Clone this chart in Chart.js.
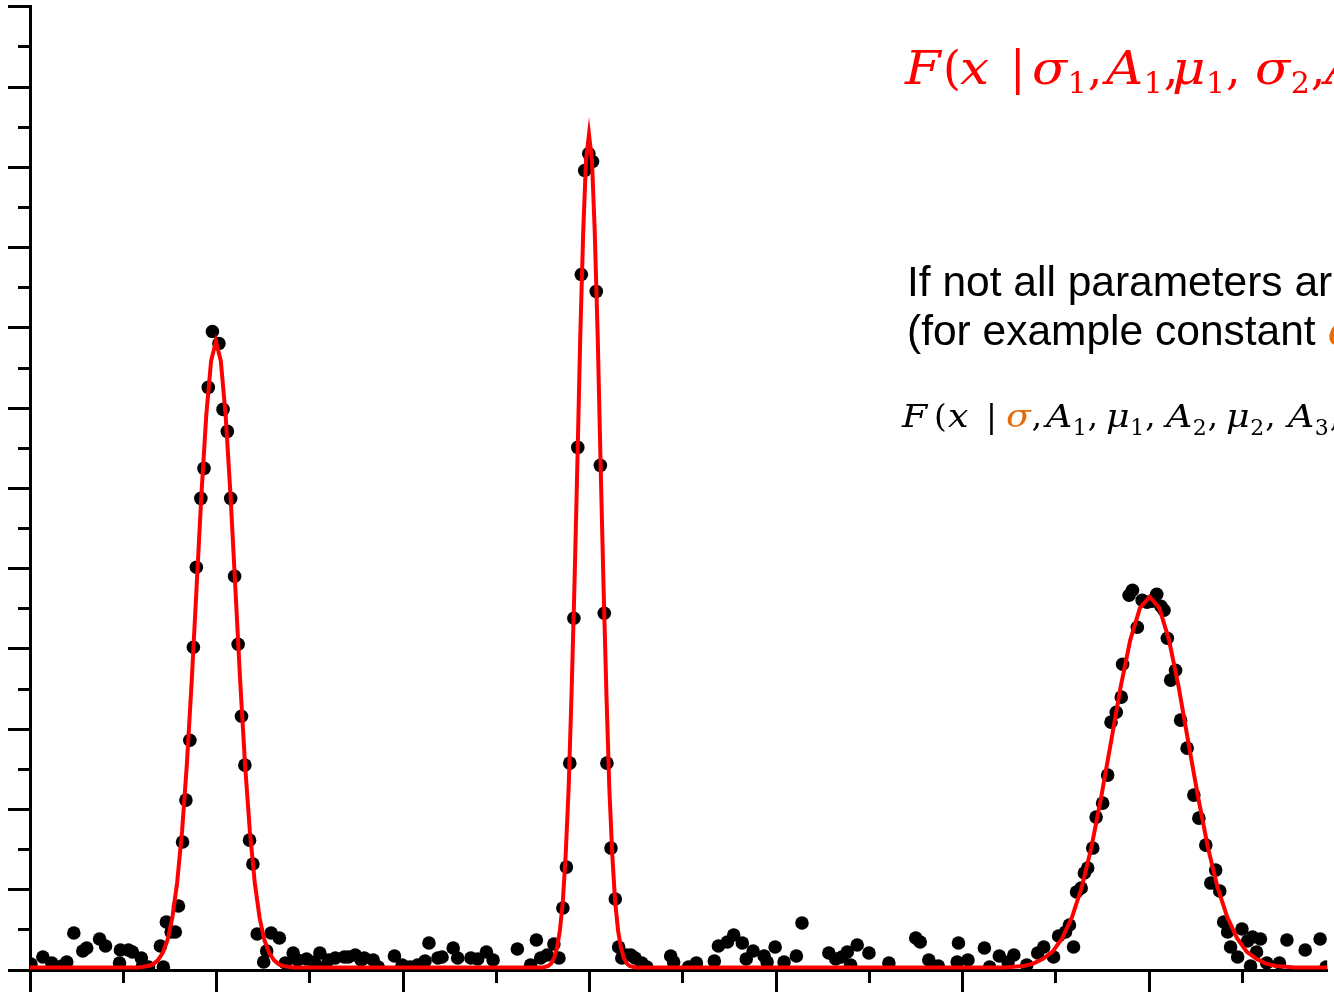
<!DOCTYPE html>
<html>
<head>
<meta charset="utf-8">
<script src="https://cdn.jsdelivr.net/npm/chart.js@4.4.1/dist/chart.umd.min.js"></script>
<style>
html,body{margin:0;padding:0;overflow:hidden;background:#fff;}
#wrap{position:relative;width:1334px;height:992px;}
#c{position:absolute;left:0;top:0;}
#ov{position:absolute;left:0;top:0;pointer-events:none;}
</style>
</head>
<body>
<div id="wrap">
<canvas id="c" width="1334" height="992"></canvas>
<svg id="ov" width="1334" height="992" xmlns="http://www.w3.org/2000/svg"></svg>
</div>
<script>
// ---- measured data points (x in axis units, y in axis units) ----
const dotX = [0.005,0.069,0.117,0.171,0.197,0.235,0.283,0.304,0.373,0.405,
0.480,0.485,0.528,0.549,0.597,0.603,0.635,0.699,0.715,0.731,
0.757,0.779,0.796,0.818,0.836,0.857,0.876,0.892,0.916,0.933,
0.956,0.978,1.013,1.035,1.058,1.076,1.097,1.116,1.134,1.152,
1.177,1.195,1.218,1.253,1.269,1.293,1.337,1.369,1.411,1.435,
1.483,1.525,1.554,1.579,1.600,1.637,1.685,1.707,1.744,1.776,
1.792,1.840,1.867,1.954,1.995,2.037,2.078,2.118,2.139,2.187,
2.209,2.269,2.293,2.364,2.400,2.447,2.483,2.613,2.684,2.715,
2.738,2.773,2.809,2.836,2.857,2.876,2.894,2.916,2.937,2.956,
2.974,2.996,3.016,3.036,3.058,3.079,3.093,3.115,3.138,3.156,
3.173,3.197,3.221,3.244,3.280,3.307,3.435,3.451,3.531,3.573,
3.669,3.691,3.739,3.773,3.819,3.840,3.877,3.936,3.952,3.995,
4.043,4.109,4.139,4.283,4.320,4.353,4.382,4.400,4.435,4.498,
4.605,4.749,4.773,4.819,4.870,4.971,4.978,5.029,5.117,5.145,
5.197,5.244,5.275,5.344,5.403,5.435,5.488,5.515,5.552,5.573,
5.595,5.611,5.636,5.653,5.671,5.698,5.716,5.751,5.778,5.796,
5.824,5.851,5.858,5.893,5.911,5.937,5.963,5.989,6.016,6.041,
6.064,6.080,6.098,6.116,6.142,6.169,6.204,6.240,6.267,6.304,
6.331,6.357,6.379,6.400,6.421,6.437,6.475,6.498,6.528,6.544,
6.555,6.576,6.597,6.631,6.699,6.739,6.837,6.917,6.949];
const dotY = [0.075,0.162,0.087,0.050,0.100,0.461,0.237,0.274,0.386,0.299,
0.087,0.249,0.249,0.224,0.149,0.050,0.037,0.299,0.037,0.598,
0.473,0.473,0.797,1.594,2.117,2.863,4.021,5.017,5.876,6.249,
7.258,7.955,7.806,6.984,6.710,5.876,4.905,4.059,3.162,2.552,
1.618,1.320,0.448,0.100,0.237,0.461,0.398,0.087,0.212,0.124,
0.137,0.100,0.212,0.037,0.124,0.149,0.162,0.162,0.187,0.124,
0.149,0.124,0.037,0.174,0.062,0.037,0.062,0.112,0.336,0.149,
0.162,0.274,0.149,0.149,0.137,0.224,0.124,0.261,0.062,0.373,
0.149,0.187,0.324,0.149,0.772,1.282,2.577,4.382,6.511,8.665,
9.960,10.171,10.072,8.454,6.287,4.445,2.577,1.519,0.884,0.286,
0.149,0.187,0.187,0.149,0.087,0.037,0.174,0.100,0.037,0.087,
0.112,0.299,0.349,0.436,0.336,0.137,0.237,0.174,0.100,0.286,
0.100,0.174,0.585,0.212,0.137,0.162,0.224,0.062,0.311,0.212,
0.087,0.398,0.349,0.124,0.050,0.100,0.336,0.124,0.274,0.037,
0.174,0.100,0.187,0.062,0.212,0.286,0.162,0.423,0.473,0.560,
0.286,0.971,1.021,1.208,1.270,1.519,1.905,2.079,2.428,3.088,
3.212,3.399,3.810,4.669,4.731,4.270,4.607,4.582,4.594,4.681,
4.532,4.482,4.133,3.611,3.735,3.113,2.764,2.179,1.892,1.556,
1.083,1.245,0.984,0.598,0.473,0.286,0.162,0.510,0.361,0.050,
0.411,0.224,0.386,0.087,0.087,0.373,0.249,0.386,0.037];

// ---- fitted curve ----
const curveX = [0,
0.581,0.607,0.633,0.659,0.685,0.711,0.737,0.763,0.789,0.815,0.841,0.867,0.893,0.919,0.945,0.971,0.997,
1.023,1.049,1.075,1.101,1.127,1.153,1.179,1.205,1.231,1.257,1.283,1.309,1.335,1.361,1.387,1.413,
2.747,2.763,2.779,2.794,2.810,2.825,2.841,2.857,2.872,2.888,2.903,2.919,2.935,2.950,2.966,2.981,2.997,
3.013,3.028,3.044,3.059,3.075,3.091,3.106,3.122,3.137,3.153,3.169,3.184,3.200,3.215,3.231,3.247,
5.171,5.223,5.275,5.327,5.379,5.431,5.483,5.535,5.587,5.639,5.691,5.743,5.795,5.847,5.899,5.951,6.003,
6.055,6.107,6.159,6.211,6.263,6.315,6.367,6.419,6.471,6.523,6.575,6.627,6.679,6.731,6.783,6.835,
7.0];
const curveY = [0.03,
0.03,0.04,0.05,0.07,0.12,0.21,0.37,0.65,1.09,1.72,2.56,3.60,4.76,5.92,6.91,7.59,7.83,
7.59,6.91,5.92,4.76,3.60,2.56,1.72,1.09,0.65,0.37,0.21,0.12,0.07,0.05,0.04,0.03,
0.03,0.04,0.05,0.08,0.15,0.27,0.49,0.86,1.43,2.27,3.40,4.78,6.33,7.87,9.19,10.09,10.41,
10.09,9.19,7.87,6.33,4.78,3.40,2.27,1.43,0.86,0.49,0.27,0.15,0.08,0.05,0.04,0.03,
0.03,0.03,0.04,0.05,0.08,0.14,0.23,0.40,0.66,1.03,1.53,2.15,2.83,3.52,4.11,4.51,4.65,
4.51,4.11,3.52,2.83,2.15,1.53,1.03,0.66,0.40,0.23,0.14,0.08,0.05,0.04,0.03,0.03,
0.03];

// ---- axis ranges ----
const xMin = 0, xMax = 6.955, xStep = 0.5;
const yMin = 0, yMax = 12, yStep = 0.5;

const dots = dotX.map((x, i) => ({x: x, y: dotY[i]}));
const curve = curveX.map((x, i) => ({x: x, y: curveY[i]}));

const isMajor = c => c.tick && Math.abs(c.tick.value - Math.round(c.tick.value)) < 1e-6;

new Chart(document.getElementById('c'), {
  type: 'scatter',
  data: {
    datasets: [
      { data: curve, showLine: true, borderColor: '#ff0000', borderWidth: 4,
        pointRadius: 0, tension: 0, borderJoinStyle: 'miter', fill: false },
      { data: dots, backgroundColor: '#000000', borderWidth: 0, pointRadius: 6.8,
        pointHoverRadius: 6.8, clip: 0 }
    ]
  },
  options: {
    responsive: false,
    animation: false,
    events: [],
    layout: { padding: { left: 8, top: 6, right: 0, bottom: 0 } },
    plugins: { legend: { display: false }, tooltip: { enabled: false } },
    scales: {
      x: {
        type: 'linear', min: xMin, max: xMax,
        border: { display: true, color: '#000', width: 3 },
        grid: { drawOnChartArea: false, drawTicks: true, tickLength: 22,
                tickColor: '#000', tickWidth: 3,
                tickBorderDash: c => isMajor(c) ? [] : [11, 100] },
        ticks: { display: false, stepSize: xStep, includeBounds: false }
      },
      y: {
        type: 'linear', min: yMin, max: yMax,
        border: { display: true, color: '#000', width: 3 },
        grid: { drawOnChartArea: false, drawTicks: true, tickLength: 22,
                tickColor: '#000', tickWidth: 3,
                tickBorderDash: c => isMajor(c) ? [] : [0, 10, 20, 100] },
        ticks: { display: false, stepSize: yStep, includeBounds: false }
      }
    }
  }
});

// ---- text overlay ----
const svg = document.getElementById('ov');
const NS = 'http://www.w3.org/2000/svg';
function txt(s, x, y, size, family, italic, color, sx) {
  const t = document.createElementNS(NS, 'text');
  t.setAttribute('x', 0); t.setAttribute('y', 0);
  t.setAttribute('transform', 'translate(' + x + ',' + y + ') scale(' + (sx || 1) + ',1)');
  t.setAttribute('font-size', size);
  t.setAttribute('font-family', family);
  if (italic) t.setAttribute('font-style', 'italic');
  t.setAttribute('fill', color);
  t.textContent = s;
  svg.appendChild(t);
  return t;
}
const MATH = 'DejaVu Serif';
const ORANGE = '#e46c0a';
const STRETCH = 1.12;
// token: [text, x or null (= follow previous glyph), kind, colour]
// kind: i = italic symbol, r = upright symbol, s = subscript
function mathLine(tokens, y, ySub, size, subSize, color) {
  let end = 0;
  tokens.forEach(t => {
    const s = t[0], kind = t[2], col = t[3] || color;
    let x = t[1];
    if (x === null) x = end + (kind === 's' ? 0.5 : 1);
    const sx = kind === 'i' ? STRETCH : 1;
    const el = kind === 's'
      ? txt(s, x, ySub, subSize, MATH, false, col, 1)
      : txt(s, x, y, size, MATH, kind === 'i', col, sx);
    end = x + el.getComputedTextLength() * sx;
  });
}
const line1 = [['F',905,'i'],['(',943,'r'],['x',960,'i'],['|',1010,'r'],
 ['σ',1032,'i'],['1',null,'s'],[',',null,'r'],
 ['A',1106,'i'],['1',null,'s'],[',',null,'r'],
 ['μ',1172,'i'],['1',null,'s'],[',',null,'r'],
 ['σ',1255,'i'],['2',null,'s'],[',',null,'r'],
 ['A',1325,'i'],['2',null,'s'],[',',null,'r'],
 ['μ',1395,'i'],['2',null,'s'],[')',null,'r']];
mathLine(line1, 83.5, 93, 46, 30, '#ff0000');
const line3 = [['F',902,'i'],['(',934,'r'],['x',948,'i'],['|',986,'r'],
 ['σ',1006,'i',ORANGE],[',',null,'r'],
 ['A',1046,'i'],['1',null,'s'],[',',null,'r'],
 ['μ',1106,'i'],['1',null,'s'],[',',null,'r'],
 ['A',1166,'i'],['2',null,'s'],[',',null,'r'],
 ['μ',1226,'i'],['2',null,'s'],[',',null,'r'],
 ['A',1288,'i'],['3',null,'s'],[',',null,'r'],
 ['μ',1348,'i'],['3',null,'s'],[')',null,'r']];
mathLine(line3, 426.5, 435, 32.5, 22, '#000000');
// sans-serif explanatory lines
const SANS = 'Liberation Sans, Arial, sans-serif';
const l2 = document.createElementNS(NS, 'text');
l2.setAttribute('x', 907); l2.setAttribute('y', 296);
l2.setAttribute('font-size', 42.5); l2.setAttribute('font-family', SANS);
l2.setAttribute('fill', '#000');
l2.textContent = 'If not all parameters are independent';
svg.appendChild(l2);
const l3 = document.createElementNS(NS, 'text');
l3.setAttribute('x', 907); l3.setAttribute('y', 345);
l3.setAttribute('font-size', 42.5); l3.setAttribute('font-family', SANS);
l3.setAttribute('fill', '#000');
l3.appendChild(document.createTextNode('(for example constant '));
const sig = document.createElementNS(NS, 'tspan');
sig.setAttribute('fill', ORANGE); sig.setAttribute('font-family', MATH); sig.setAttribute('font-style', 'italic');
sig.textContent = 'σ';
l3.appendChild(sig);
l3.appendChild(document.createTextNode(')'));
svg.appendChild(l3);
</script>
</body>
</html>
